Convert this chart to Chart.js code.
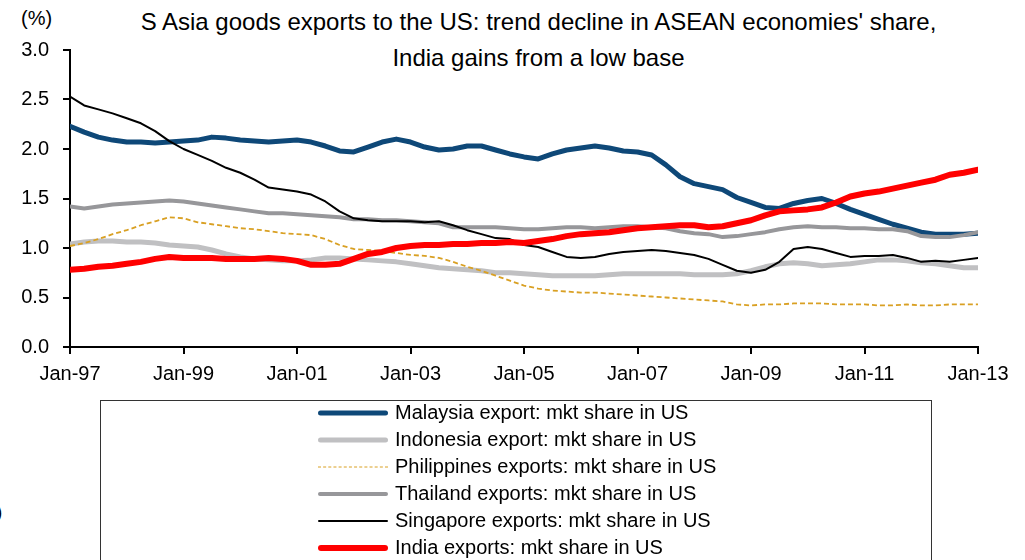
<!DOCTYPE html>
<html>
<head>
<meta charset="utf-8">
<script src="https://cdn.jsdelivr.net/npm/chart.js@4"></script>
<style>
  html, body { margin: 0; padding: 0; background: #fff; }
  body { width: 1025px; height: 560px; position: relative; overflow: hidden; font-family: "Liberation Sans", Arial, sans-serif; color: #000; }
  #wrap { position: absolute; left: 0; top: 0; width: 1025px; height: 400px; }
  .title { position: absolute; left: 0; width: 1077px; text-align: center; font-size: 24px; line-height: 28px; }
  .unit { position: absolute; left: 21px; top: 7px; font-size: 20px; }
  .stray { position: absolute; left: -4px; top: 501px; font-size: 19px; }
  #legend { position: absolute; left: 100px; top: 400px; width: 832px; height: 200px; border: 1px solid #333; box-sizing: border-box; }
  .row { position: absolute; left: 0; height: 27px; width: 100%; }
  .row .sample { position: absolute; left: 217px; width: 70px; top: 50%; }
  .row .txt { position: absolute; left: 294px; top: 0; font-size: 20px; line-height: 27px; white-space: nowrap; }
</style>
</head>
<body>
<div class="unit">(%)</div>
<div class="title" style="top:8px">S Asia goods exports to the US: trend decline in ASEAN economies' share,</div>
<div class="title" style="top:44px">India gains from a low base</div>
<div id="wrap"><canvas id="chart" width="1025" height="400"></canvas></div>
<div id="legend"></div>
<div class="stray">)</div>
<script>
// quarterly readings, Jan-97 .. Jan-13 (65 points)
const xTickLabels = ['Jan-97', 'Jan-99', 'Jan-01', 'Jan-03', 'Jan-05', 'Jan-07', 'Jan-09', 'Jan-11', 'Jan-13'];

const malaysia = [2.23, 2.17, 2.12, 2.09, 2.07, 2.07, 2.06, 2.07, 2.08, 2.09, 2.12, 2.11, 2.09, 2.08, 2.07, 2.08,
  2.09, 2.07, 2.03, 1.98, 1.97, 2.02, 2.07, 2.10, 2.07, 2.02, 1.99, 2.00, 2.03, 2.03, 1.99, 1.95,
  1.92, 1.90, 1.95, 1.99, 2.01, 2.03, 2.01, 1.98, 1.97, 1.94, 1.84, 1.72, 1.65, 1.62, 1.59, 1.51,
  1.46, 1.41, 1.40, 1.45, 1.48, 1.50, 1.45, 1.39, 1.34, 1.29, 1.24, 1.20, 1.16, 1.14, 1.14, 1.14, 1.15];

const indonesia = [1.04, 1.06, 1.07, 1.07, 1.06, 1.06, 1.05, 1.03, 1.02, 1.01, 0.98, 0.94, 0.91, 0.89, 0.88, 0.87,
  0.87, 0.88, 0.90, 0.90, 0.89, 0.88, 0.87, 0.86, 0.84, 0.82, 0.80, 0.79, 0.78, 0.77, 0.75, 0.75,
  0.74, 0.73, 0.72, 0.72, 0.72, 0.72, 0.73, 0.74, 0.74, 0.74, 0.74, 0.74, 0.73, 0.73, 0.73, 0.74,
  0.77, 0.81, 0.84, 0.85, 0.84, 0.82, 0.83, 0.84, 0.86, 0.88, 0.88, 0.87, 0.85, 0.84, 0.82, 0.80, 0.80];

const philippines = [1.02, 1.05, 1.09, 1.14, 1.18, 1.23, 1.27, 1.31, 1.30, 1.26, 1.24, 1.22, 1.20, 1.19, 1.17, 1.15,
  1.14, 1.13, 1.09, 1.03, 0.99, 0.98, 0.97, 0.95, 0.93, 0.92, 0.90, 0.86, 0.81, 0.77, 0.72, 0.67,
  0.62, 0.59, 0.57, 0.56, 0.55, 0.55, 0.54, 0.53, 0.52, 0.51, 0.50, 0.49, 0.48, 0.47, 0.46, 0.43,
  0.42, 0.43, 0.43, 0.44, 0.44, 0.44, 0.43, 0.43, 0.43, 0.42, 0.42, 0.43, 0.42, 0.42, 0.43, 0.43, 0.43];

const thailand = [1.42, 1.40, 1.42, 1.44, 1.45, 1.46, 1.47, 1.48, 1.47, 1.45, 1.43, 1.41, 1.39, 1.37, 1.35, 1.35,
  1.34, 1.33, 1.32, 1.31, 1.29, 1.29, 1.28, 1.28, 1.27, 1.26, 1.25, 1.21, 1.21, 1.21, 1.21, 1.20,
  1.19, 1.19, 1.20, 1.21, 1.21, 1.20, 1.21, 1.22, 1.22, 1.21, 1.20, 1.17, 1.15, 1.14, 1.11, 1.12,
  1.14, 1.16, 1.19, 1.21, 1.22, 1.21, 1.21, 1.20, 1.20, 1.19, 1.19, 1.17, 1.12, 1.11, 1.11, 1.13, 1.16];

const singapore = [2.53, 2.44, 2.40, 2.36, 2.31, 2.26, 2.18, 2.08, 2.00, 1.94, 1.88, 1.81, 1.76, 1.69, 1.61, 1.59,
  1.57, 1.54, 1.47, 1.37, 1.30, 1.28, 1.27, 1.27, 1.27, 1.26, 1.27, 1.23, 1.18, 1.14, 1.10, 1.09,
  1.03, 1.01, 0.96, 0.91, 0.90, 0.91, 0.94, 0.96, 0.97, 0.98, 0.97, 0.95, 0.93, 0.89, 0.83, 0.77,
  0.75, 0.78, 0.86, 0.99, 1.01, 0.99, 0.95, 0.91, 0.92, 0.92, 0.93, 0.90, 0.86, 0.87, 0.86, 0.88, 0.90];

const india = [0.78, 0.79, 0.81, 0.82, 0.84, 0.86, 0.89, 0.91, 0.90, 0.90, 0.90, 0.89, 0.89, 0.89, 0.90, 0.89,
  0.87, 0.83, 0.83, 0.84, 0.89, 0.94, 0.96, 1.00, 1.02, 1.03, 1.03, 1.04, 1.04, 1.05, 1.05, 1.06,
  1.05, 1.07, 1.09, 1.12, 1.14, 1.15, 1.16, 1.18, 1.20, 1.21, 1.22, 1.23, 1.23, 1.21, 1.22, 1.25,
  1.28, 1.33, 1.37, 1.38, 1.39, 1.41, 1.46, 1.52, 1.55, 1.57, 1.60, 1.63, 1.66, 1.69, 1.74, 1.76, 1.79];

const FONT = '"Liberation Sans", Arial, sans-serif';

// months since Jan-97 for each quarterly reading
const toPoints = arr => arr.map((v, i) => ({ x: i * 3, y: v }));

const series = [
  { label: 'Malaysia export: mkt share in US',    data: malaysia,    color: '#0E4878', width: 5,   dash: [] },
  { label: 'Indonesia export: mkt share in US',   data: indonesia,   color: '#C0C0C2', width: 5,   dash: [] },
  { label: 'Philippines exports: mkt share in US', data: philippines, color: '#D9A023', width: 1.8, dash: [5, 3] },
  { label: 'Thailand exports: mkt share in US',   data: thailand,    color: '#97979A', width: 4,   dash: [] },
  { label: 'Singapore exports: mkt share in US',  data: singapore,   color: '#000000', width: 2,   dash: [] },
  { label: 'India exports: mkt share in US',      data: india,       color: '#FF0000', width: 6,   dash: [] }
];

new Chart(document.getElementById('chart'), {
  type: 'line',
  data: {
    datasets: series.map((s, i) => ({
      label: s.label,
      data: toPoints(s.data),
      borderColor: s.color,
      borderWidth: s.width,
      borderDash: s.dash,
      borderJoinStyle: 'round',
      borderCapStyle: s.dash.length ? 'butt' : 'round',
      pointRadius: 0,
      tension: 0,
      fill: false,
      order: series.length - i   // later series on top
    }))
  },
  options: {
    responsive: false,
    animation: false,
    layout: { padding: { left: 0, right: 47, top: 50, bottom: 0 } },
    plugins: { legend: { display: false }, tooltip: { enabled: false } },
    scales: {
      x: {
        type: 'linear', min: 0, max: 192,
        afterFit: s => { s.height = 53; },
        afterBuildTicks: s => { s.ticks = xTickLabels.map((_, i) => ({ value: i * 24 })); },
        ticks: {
          autoSkip: false, maxRotation: 0, padding: 8,
          color: '#000', font: { family: FONT, size: 20 },
          callback: v => xTickLabels[v / 24]
        },
        grid: { drawOnChartArea: false, drawTicks: true, tickLength: 7, color: '#000', lineWidth: 2 },
        border: { color: '#000', width: 2 }
      },
      y: {
        min: 0, max: 3,
        afterFit: s => { s.width = 70; },
        ticks: {
          stepSize: 0.5, padding: 14,
          color: '#000', font: { family: FONT, size: 20 },
          callback: v => v.toFixed(1)
        },
        grid: { drawOnChartArea: false, drawTicks: true, tickLength: 7, color: '#000', lineWidth: 2 },
        border: { color: '#000', width: 2 }
      }
    }
  }
});

// boxed legend below the plot
const legend = document.getElementById('legend');
series.forEach((s, i) => {
  const row = document.createElement('div');
  row.className = 'row';
  row.style.top = (-2 + i * 27) + 'px';
  const line = s.dash.length
    ? `border-top: 1.5px dashed ${s.color};`
    : `height: ${s.width}px; background: ${s.color}; border-radius: ${s.width / 2}px;`;
  row.innerHTML = `<div class="sample" style="${line} transform: translateY(-50%);"></div><div class="txt">${s.label}</div>`;
  legend.appendChild(row);
});
</script>
</body>
</html>
